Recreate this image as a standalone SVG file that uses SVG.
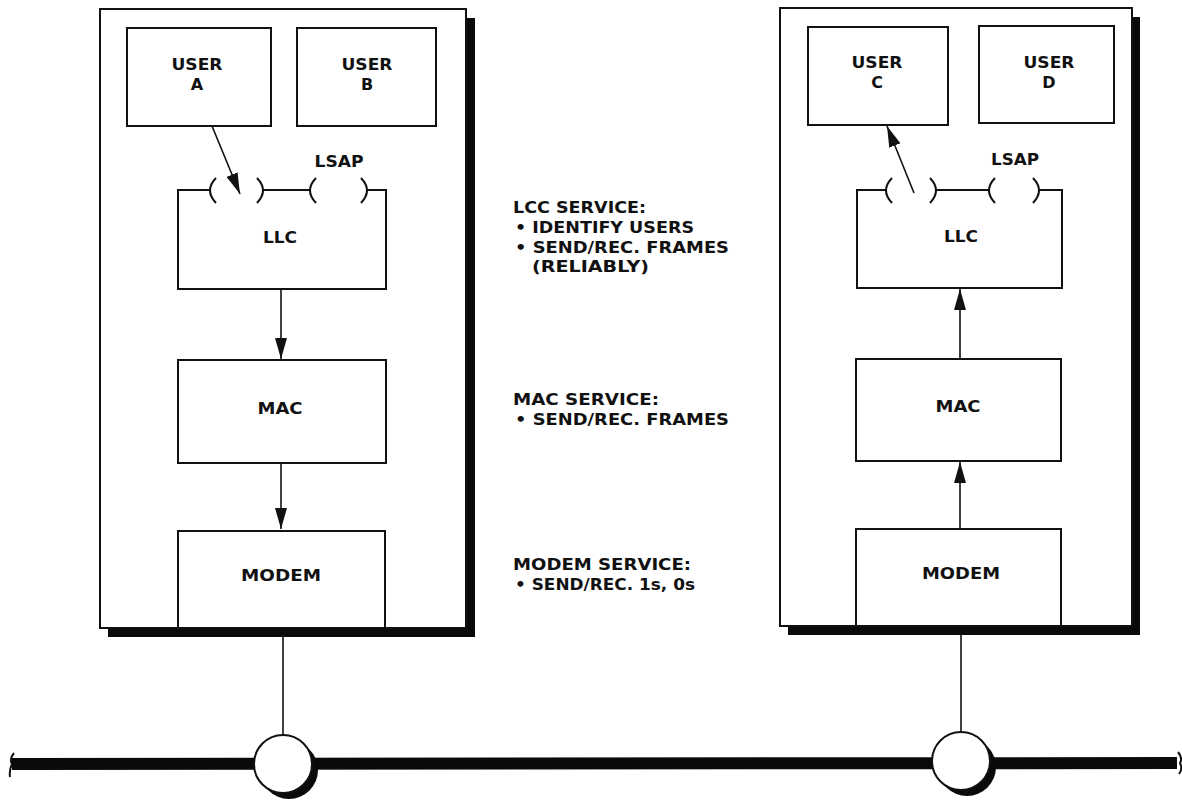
<svg xmlns="http://www.w3.org/2000/svg" width="1182" height="801" viewBox="0 0 1182 801">
  <style>
    .box { fill: #fff; stroke: #111; stroke-width: 2; }
    .shadow { fill: #0a0a0a; }
    .edge { fill: none; stroke: #111; stroke-width: 1.6; }
    .outline { fill: none; stroke: #111; stroke-width: 2; }
    .lbl { font-family: "DejaVu Sans", "Liberation Sans", sans-serif; font-weight: bold; font-size: 16px; fill: #111; text-anchor: middle; }
    .note { font-family: "DejaVu Sans", "Liberation Sans", sans-serif; font-weight: bold; font-size: 15px; fill: #111; }
    .bus { stroke: #0a0a0a; stroke-width: 12; }
  </style>
  <defs>
    <marker id="arrow" markerUnits="userSpaceOnUse" markerWidth="22" markerHeight="12" refX="21" refY="6" orient="auto">
      <path d="M0,0 L21,6 L0,12 Z" fill="#111"/>
    </marker>
  </defs>

  <rect width="1182" height="801" fill="#fff"/>

  <!-- station frames with drop shadows -->
  <g id="station-left">
    <rect class="shadow" x="108" y="18" width="367" height="619"/>
    <rect class="box" x="100" y="9" width="366" height="619"/>
  </g>
  <g id="station-right">
    <rect class="shadow" x="788" y="17" width="352" height="618"/>
    <rect class="box" x="780" y="8" width="352" height="618"/>
  </g>

  <!-- left station layers -->
  <g id="user-a">
    <rect class="box" x="127" y="28" width="144" height="98"/>
    <text class="lbl" x="197" y="70" textLength="51" lengthAdjust="spacingAndGlyphs">USER</text>
    <text class="lbl" x="197" y="90">A</text>
  </g>
  <g id="user-b">
    <rect class="box" x="297" y="28" width="139" height="98"/>
    <text class="lbl" x="367" y="70" textLength="51" lengthAdjust="spacingAndGlyphs">USER</text>
    <text class="lbl" x="367" y="90">B</text>
  </g>
  <g id="llc-left">
    <path class="outline" d="M210,190 L178,190 L178,289 L386,289 L386,190 L367,190 M263,190 L310,190"/>
    <path class="outline" d="M216,178 Q204,190.5 216,203 M257,178 Q269,190.5 257,203 M316,178 Q304,190.5 316,203 M361,178 Q373,190.5 361,203"/>
    <text class="lbl" x="339" y="167" textLength="49" lengthAdjust="spacingAndGlyphs">LSAP</text>
    <text class="lbl" x="280" y="243" textLength="34" lengthAdjust="spacingAndGlyphs">LLC</text>
  </g>
  <g id="mac-left">
    <rect class="box" x="178" y="360" width="208" height="103"/>
    <text class="lbl" x="280" y="414" textLength="45" lengthAdjust="spacingAndGlyphs">MAC</text>
  </g>
  <g id="modem-left">
    <rect class="box" x="178" y="531" width="207" height="97"/>
    <text class="lbl" x="281" y="581" textLength="80" lengthAdjust="spacingAndGlyphs">MODEM</text>
  </g>

  <!-- right station layers -->
  <g id="user-c">
    <rect class="box" x="808" y="27" width="140" height="98"/>
    <text class="lbl" x="877" y="68" textLength="51" lengthAdjust="spacingAndGlyphs">USER</text>
    <text class="lbl" x="877" y="88">C</text>
  </g>
  <g id="user-d">
    <rect class="box" x="979" y="26" width="135" height="97"/>
    <text class="lbl" x="1049" y="68" textLength="51" lengthAdjust="spacingAndGlyphs">USER</text>
    <text class="lbl" x="1049" y="88">D</text>
  </g>
  <g id="llc-right">
    <path class="outline" d="M886,190 L857,190 L857,288 L1062,288 L1062,190 L1039,190 M936,190 L989,190"/>
    <path class="outline" d="M892,178 Q880,190.5 892,203 M930,178 Q942,190.5 930,203 M995,178 Q983,190.5 995,203 M1033,178 Q1045,190.5 1033,203"/>
    <text class="lbl" x="1015" y="165" textLength="48" lengthAdjust="spacingAndGlyphs">LSAP</text>
    <text class="lbl" x="961" y="242" textLength="34" lengthAdjust="spacingAndGlyphs">LLC</text>
  </g>
  <g id="mac-right">
    <rect class="box" x="856" y="359" width="205" height="102"/>
    <text class="lbl" x="958" y="412" textLength="45" lengthAdjust="spacingAndGlyphs">MAC</text>
  </g>
  <g id="modem-right">
    <rect class="box" x="856" y="529" width="205" height="97"/>
    <text class="lbl" x="961" y="579" textLength="78" lengthAdjust="spacingAndGlyphs">MODEM</text>
  </g>

  <!-- service descriptions -->
  <g id="services">
    <text class="note" x="513" y="213" textLength="133" lengthAdjust="spacingAndGlyphs">LCC SERVICE:</text>
    <text class="note" x="515" y="233" textLength="179" lengthAdjust="spacingAndGlyphs">• IDENTIFY USERS</text>
    <text class="note" x="515" y="253" textLength="214" lengthAdjust="spacingAndGlyphs">• SEND/REC. FRAMES</text>
    <text class="note" x="532" y="272" textLength="117" lengthAdjust="spacingAndGlyphs">(RELIABLY)</text>
    <text class="note" x="513" y="405" textLength="146" lengthAdjust="spacingAndGlyphs">MAC SERVICE:</text>
    <text class="note" x="515" y="425" textLength="214" lengthAdjust="spacingAndGlyphs">• SEND/REC. FRAMES</text>
    <text class="note" x="513" y="570" textLength="178" lengthAdjust="spacingAndGlyphs">MODEM SERVICE:</text>
    <text class="note" x="515" y="590" textLength="180" lengthAdjust="spacingAndGlyphs">• SEND/REC. 1s, 0s</text>
  </g>

  <!-- shared medium -->
  <g id="bus">
    <line class="bus" x1="12" y1="764" x2="1177" y2="763"/>
    <path class="outline" d="M14,753 Q9,759 12,764 Q9,770 10,777 M1178,752 Q1183,758 1180,763 Q1183,769 1179,774" stroke-width="2.5"/>
  </g>

  <g id="tap-left">
    <circle cx="289" cy="770" r="29" fill="#0a0a0a"/>
    <circle cx="283" cy="764" r="29" fill="#fff" stroke="#111" stroke-width="2"/>
  </g>
  <g id="tap-right">
    <circle cx="967" cy="767" r="29" fill="#0a0a0a"/>
    <circle cx="961" cy="761" r="29" fill="#fff" stroke="#111" stroke-width="2"/>
  </g>

  <!-- connectors -->
  <g id="connectors">
    <line class="edge" x1="212" y1="126" x2="240" y2="194" marker-end="url(#arrow)"/>
    <line class="edge" x1="281" y1="289" x2="281" y2="359" marker-end="url(#arrow)"/>
    <line class="edge" x1="281" y1="463" x2="281" y2="529" marker-end="url(#arrow)"/>
    <line class="edge" x1="283" y1="637" x2="283" y2="735"/>

    <line class="edge" x1="914" y1="193" x2="887" y2="126" marker-end="url(#arrow)"/>
    <line class="edge" x1="960" y1="529" x2="960" y2="462" marker-end="url(#arrow)"/>
    <line class="edge" x1="960" y1="359" x2="960" y2="289" marker-end="url(#arrow)"/>
    <line class="edge" x1="961" y1="635" x2="961" y2="732"/>
  </g>
</svg>
